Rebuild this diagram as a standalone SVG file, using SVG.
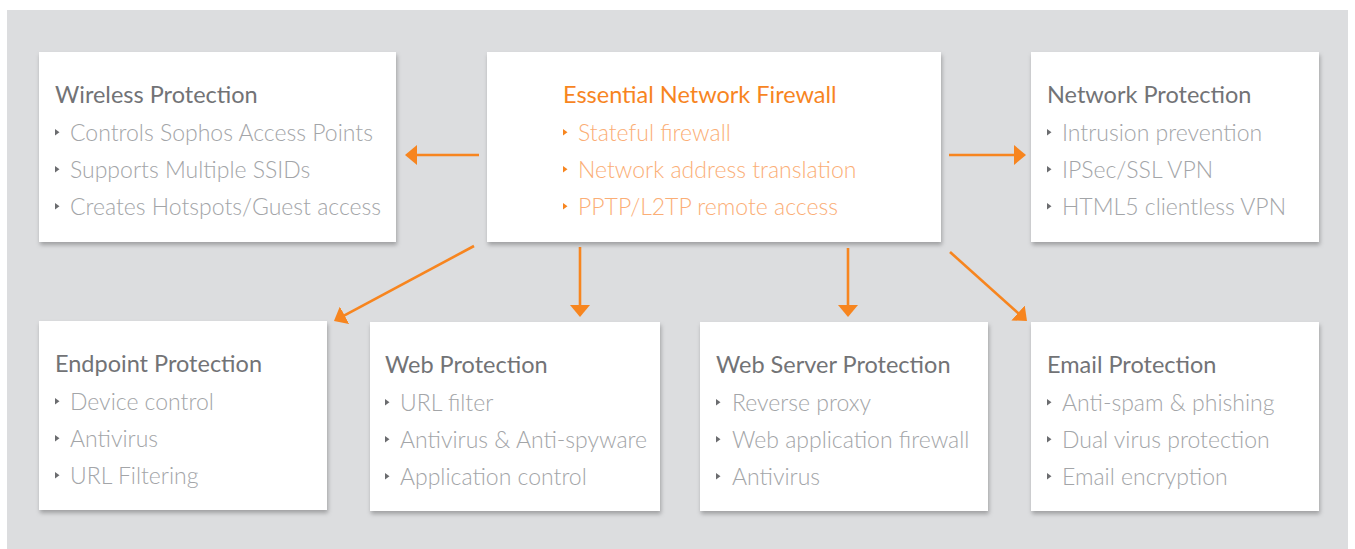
<svg xmlns="http://www.w3.org/2000/svg" width="1355" height="549" viewBox="0 0 1355 549">
<style>
.box{fill:#ffffff;filter:url(#sh)}
.title{font-family:Lato,"Liberation Sans",sans-serif;font-size:23.5px;fill:#727376}
.item{font-family:Lato,"Liberation Sans",sans-serif;font-weight:300;font-size:23px;fill:#a3a5a8}
.otitle{font-family:Lato,"Liberation Sans",sans-serif;font-size:23.5px;fill:#f7851f}
.oitem{font-family:Lato,"Liberation Sans",sans-serif;font-weight:300;font-size:23px;fill:#fbae76}
.tri{fill:#6b6c6f}
.otri{fill:#f7851f}
.conn{stroke:#f7851f;stroke-width:2.6;fill:none;marker-end:url(#ah)}
</style>
<defs>
<filter id="sh" x="-5%" y="-5%" width="112%" height="120%">
<feDropShadow dx="1" dy="3" stdDeviation="2.2" flood-color="#000" flood-opacity="0.28"/>
</filter>
<marker id="ah" markerUnits="userSpaceOnUse" markerWidth="12" markerHeight="20" refX="8" refY="10" orient="auto">
<path d="M0,0 L12,10 L0,20 z" fill="#f7851f"/>
</marker>
<path id="b" d="M0,0 L4.5,3.2 L0,6.4 z"/>
</defs>
<rect x="0" y="0" width="1355" height="549" fill="#ffffff"/>
<rect x="7" y="10" width="1341" height="539" fill="#dcdddf"/>

<g id="connectors">
<line class="conn" x1="479" y1="155" x2="409" y2="155"/>
<line class="conn" x1="949" y1="155" x2="1022" y2="155"/>
<line class="conn" x1="474" y1="246" x2="337.5" y2="319.1"/>
<line class="conn" x1="580" y1="247" x2="580" y2="313"/>
<line class="conn" x1="848" y1="248" x2="848" y2="313"/>
<line class="conn" x1="950" y1="252" x2="1024" y2="318.3"/>
</g>

<g id="wireless">
<rect class="box" x="39" y="52" width="357" height="190"/>
<text class="title" x="55" y="103">Wireless Protection</text>
<use href="#b" class="tri" x="55" y="129"/>
<use href="#b" class="tri" x="55" y="166"/>
<use href="#b" class="tri" x="55" y="203"/>
<text class="item" x="70" y="141">Controls Sophos Access Points</text>
<text class="item" x="70" y="178">Supports Multiple SSIDs</text>
<text class="item" x="70" y="215">Creates Hotspots/Guest access</text>
</g>

<g id="firewall">
<rect class="box" x="487" y="52" width="454" height="190"/>
<text class="otitle" x="563" y="103">Essential Network Firewall</text>
<use href="#b" class="otri" x="563" y="129"/>
<use href="#b" class="otri" x="563" y="166"/>
<use href="#b" class="otri" x="563" y="203"/>
<text class="oitem" x="578" y="141">Stateful firewall</text>
<text class="oitem" x="578" y="178">Network address translation</text>
<text class="oitem" x="578" y="215">PPTP/L2TP remote access</text>
</g>

<g id="network">
<rect class="box" x="1031" y="52" width="288" height="190"/>
<text class="title" x="1047" y="103">Network Protection</text>
<use href="#b" class="tri" x="1047" y="129"/>
<use href="#b" class="tri" x="1047" y="166"/>
<use href="#b" class="tri" x="1047" y="203"/>
<text class="item" x="1062" y="141">Intrusion prevention</text>
<text class="item" x="1062" y="178">IPSec/SSL VPN</text>
<text class="item" x="1062" y="215">HTML5 clientless VPN</text>
</g>

<g id="endpoint">
<rect class="box" x="39" y="321" width="288" height="189"/>
<text class="title" x="55" y="372">Endpoint Protection</text>
<use href="#b" class="tri" x="55" y="398"/>
<use href="#b" class="tri" x="55" y="435"/>
<use href="#b" class="tri" x="55" y="472"/>
<text class="item" x="70" y="410">Device control</text>
<text class="item" x="70" y="447">Antivirus</text>
<text class="item" x="70" y="484">URL Filtering</text>
</g>

<g id="web">
<rect class="box" x="370" y="322" width="290" height="189"/>
<text class="title" x="385" y="373">Web Protection</text>
<use href="#b" class="tri" x="385" y="399"/>
<use href="#b" class="tri" x="385" y="436"/>
<use href="#b" class="tri" x="385" y="473"/>
<text class="item" x="400" y="411">URL filter</text>
<text class="item" x="400" y="448">Antivirus &amp; Anti-spyware</text>
<text class="item" x="400" y="485">Application control</text>
</g>

<g id="webserver">
<rect class="box" x="700" y="322" width="288" height="189"/>
<text class="title" x="716" y="373">Web Server Protection</text>
<use href="#b" class="tri" x="716" y="399"/>
<use href="#b" class="tri" x="716" y="436"/>
<use href="#b" class="tri" x="716" y="473"/>
<text class="item" x="732" y="411">Reverse proxy</text>
<text class="item" x="732" y="448">Web application firewall</text>
<text class="item" x="732" y="485">Antivirus</text>
</g>

<g id="email">
<rect class="box" x="1031" y="322" width="288" height="189"/>
<text class="title" x="1047" y="373">Email Protection</text>
<use href="#b" class="tri" x="1047" y="399"/>
<use href="#b" class="tri" x="1047" y="436"/>
<use href="#b" class="tri" x="1047" y="473"/>
<text class="item" x="1062" y="411">Anti-spam &amp; phishing</text>
<text class="item" x="1062" y="448">Dual virus protection</text>
<text class="item" x="1062" y="485">Email encryption</text>
</g>
</svg>
